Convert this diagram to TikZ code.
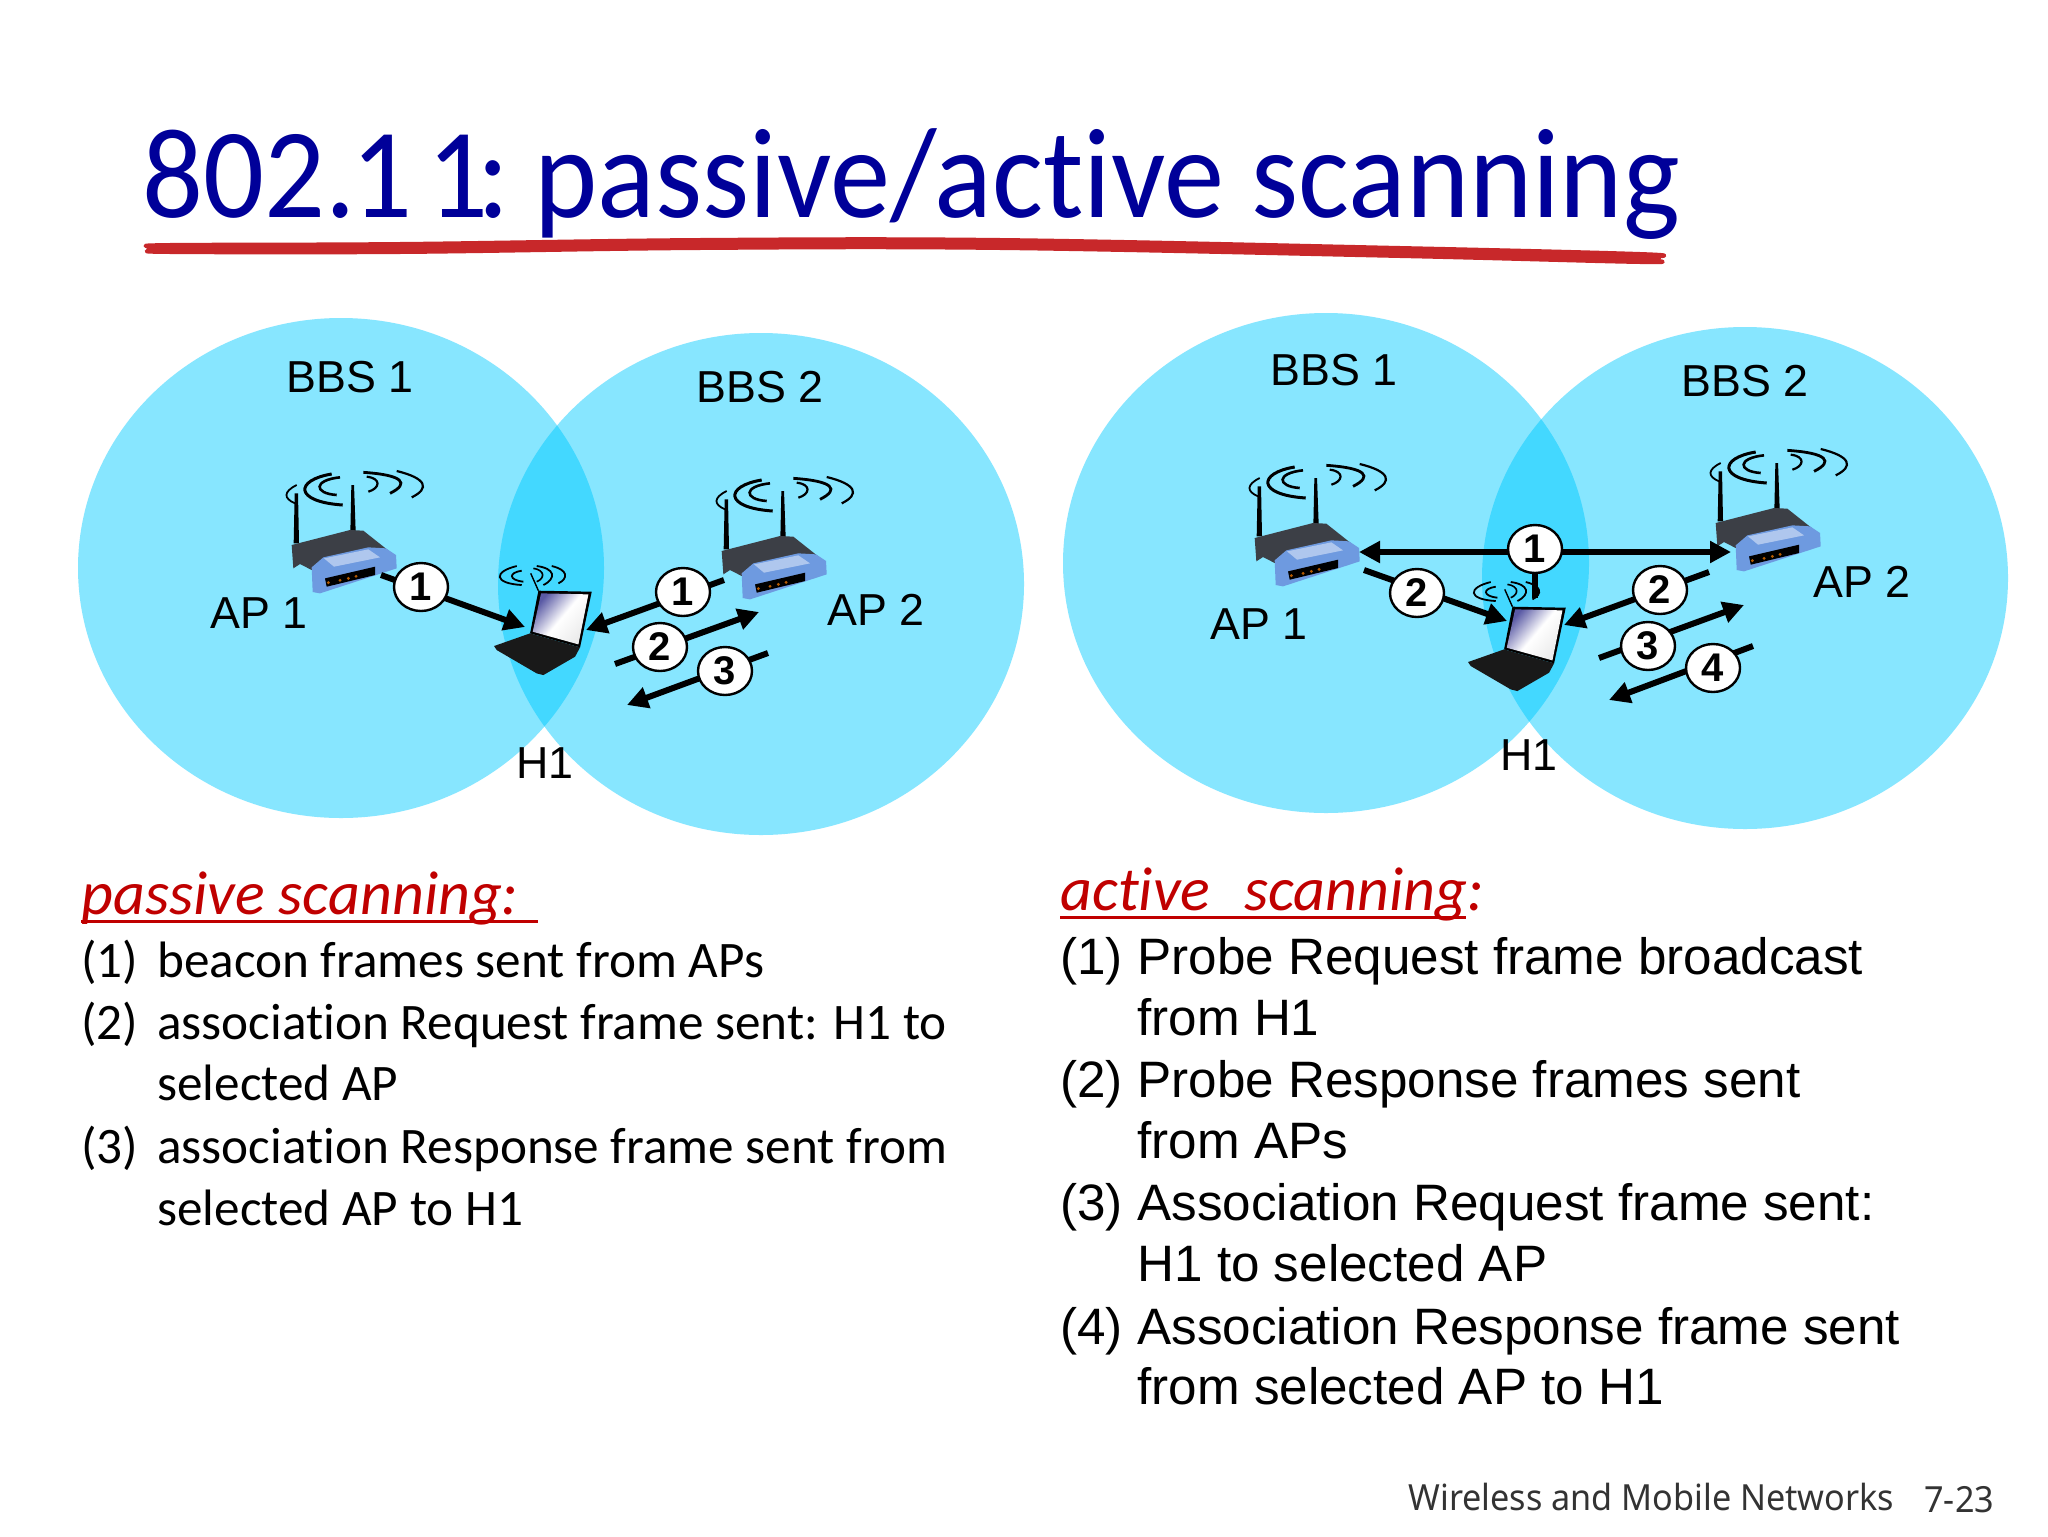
\documentclass[tikz,border=0pt]{standalone}
\usepackage{fontspec}
\setmainfont{Liberation Sans}
\newfontfamily\gill[Ligatures=NoCommon]{Carlito}
\newfontfamily\gilltitle[Ligatures=NoCommon,FakeStretch=0.94]{Carlito}
\newfontfamily\foot[FakeStretch=0.95]{Noto Sans}
\usetikzlibrary{arrows.meta,shapes.geometric}
\definecolor{cellblue}{HTML}{87E6FF}
\definecolor{overlapblue}{HTML}{43D8FF}
\definecolor{titleblue}{HTML}{000099}
\definecolor{ulred}{HTML}{C8282A}
\definecolor{headred}{HTML}{C00000}
\definecolor{rblue}{HTML}{6E9AE0}
\definecolor{rdark}{HTML}{3C3F46}
\definecolor{screenviolet}{HTML}{5A5AA5}
\tikzset{
 x=0.5pt,y=-0.5pt,
 lab/.style={font=\fontsize{22.4}{22}\selectfont,inner sep=0pt,anchor=center},
 num/.style={ellipse,draw=black,line width=1.2pt,fill=white,minimum width=27pt,minimum height=24pt,inner sep=0pt,font=\fontsize{20}{20}\selectfont\bfseries},
 msg/.style={line width=3pt,-{Triangle[length=10.5pt,width=10.5pt]}},
 stub/.style={line width=3pt},
 gilltxt/.style={font=\gill\fontsize{25.6}{26}\selectfont,anchor=base west,inner sep=0pt,text=black},
 ariatxt/.style={font=\fontsize{25.6}{26}\selectfont,anchor=base west,inner sep=0pt,text=black},
 heading/.style={anchor=base west,inner sep=0pt,text=headred,font=\gill\itshape\fontsize{31}{31}\selectfont},
 router/.pic={
  \begin{scope}[x=0.1667pt,y=-0.1667pt]
   \fill[black] (104,100)--(114,100)--(117,250)--(101,250)--cycle;
   \fill[black] (274,75)--(282,75)--(287,215)--(271,215)--cycle;
   \fill[rdark] (95,255)--(270,210)--(310,212)--(402,285)--(370,272)--(190,294)--(155,330)--(120,312)--(100,325)--cycle;
   \fill[rblue] (155,322)--(190,292)--(325,262)--(378,265)--(408,285)--(410,325)--(180,400)--(158,396)--cycle;
   \fill[rblue!55!white] (192,295)--(325,268)--(360,292)--(222,320)--cycle;
   \fill[black] (195,355)--(345,320)--(345,345)--(200,380)--cycle;
   \foreach \q in {(205,368),(240,361),(265,355),(288,349)} \fill[orange!70!black] \q circle (0.8pt);
   \draw[black,line width=0.9pt] (110,75) .. controls (70,95) and (70,115) .. (105,130);
   \draw[black,line width=1.5pt] (215,42) .. controls (105,60) and (100,125) .. (248,135);
   \draw[black,line width=1.3pt] (240,52) .. controls (160,60) and (160,100) .. (230,105);
   \draw[black,line width=1.1pt] (320,50) .. controls (365,55) and (360,85) .. (325,95);
   \draw[black,line width=1.4pt] (310,37) .. controls (430,45) and (450,70) .. (390,100);
   \draw[black,line width=1.1pt] (410,33) .. controls (500,55) and (510,85) .. (455,112);
  \end{scope}},
 laptop/.pic={
  \begin{scope}[x=0.1667pt,y=-0.1667pt]
   \draw[black,line width=0.7pt] (812,340)--(835,392);
   \draw[black,line width=0.9pt] (770,318) .. controls (700,335) and (700,370) .. (785,375);
   \draw[black,line width=0.9pt] (785,332) .. controls (745,338) and (745,360) .. (790,365);
   \draw[black,line width=0.8pt] (820,325) .. controls (855,330) and (855,355) .. (830,365);
   \draw[black,line width=0.9pt] (830,318) .. controls (885,325) and (890,355) .. (850,375);
   \draw[black,line width=0.9pt] (875,318) .. controls (925,330) and (925,355) .. (895,370);
   \fill[black] (835,392)--(995,395)--(960,562)--(810,520)--cycle;
   \shade[top color=screenviolet,bottom color=black!8,middle color=white,shading angle=50] (843,400)--(985,403)--(955,553)--(818,515)--cycle;
   \fill[black!90] (702,558)--(810,520)--(960,562)--(945,590)--(850,645)--(830,640)--(710,570)--cycle;
  \end{scope}}
}
\begin{document}
\begin{tikzpicture}
\useasboundingbox (0,0) rectangle (2048,1536);
\fill[white] (0,0) rectangle (2048,1536);
% title
\node[anchor=base west,inner sep=0pt,text=titleblue,font=\gilltitle\fontsize{64}{64}\selectfont] (title) at (142,217) {802.\kern-2pt 1\kern7.3pt 1\kern-5.5pt:\kern-1pt\ passive/active scanning};
\filldraw[ulred,line width=2pt,line join=round] plot[smooth cycle,tension=0.6] coordinates {(150,247)(170,245)(400,244)(700,240)(1000,240)(1400,248)(1640,254)(1658,257)(1655,260)(1640,262)(1400,256)(1000,248)(700,248)(400,252)(170,252)(152,250)};
% cells
\foreach \cx/\cy/\ox/\oy in {341/568/761/584,1326/563/1745/578}{
 \fill[cellblue] (\cx,\cy) ellipse [x radius=131.5pt,y radius=125pt];
 \fill[cellblue] (\ox,\oy) ellipse [x radius=131.5pt,y radius=125.5pt];
 \begin{scope}
  \clip (\cx,\cy) ellipse [x radius=131.5pt,y radius=125pt];
  \fill[overlapblue] (\ox,\oy) ellipse [x radius=131.5pt,y radius=125.5pt];
 \end{scope}
}
% devices
\pic at (260,460) {router};
\pic at (690,466) {router};
\pic at (1223,453) {router};
\pic at (1684,438) {router};
\pic at (260,460) {laptop};
\pic at (1234,476) {laptop};
% labels
\node[lab] (l1) at (350,377) {BBS 1};
\node[lab] (l2) at (760,387) {BBS 2};
\node[lab] (l3) at (259,613) {AP 1};
\node[lab] (l4) at (876,610) {AP 2};
\node[lab] (l5) at (545,763) {H1};
\node[lab] (r1) at (1334,370) {BBS 1};
\node[lab] (r2) at (1745,381) {BBS 2};
\node[lab] (r3) at (1259,624) {AP 1};
\node[lab] (r4) at (1862,582) {AP 2};
\node[lab] (r5) at (1529,755) {H1};
% left arrows
\coordinate (a1s) at (381,575); \coordinate (a1e) at (525,627);
\coordinate (a2s) at (724,580); \coordinate (a2e) at (586,630);
\coordinate (a3s) at (615,664); \coordinate (a3e) at (759,612);
\coordinate (a4s) at (768,653); \coordinate (a4e) at (627,705);
\draw[msg] (a1s)--(a1e);
\draw[msg] (a2s)--(a2e);
\draw[msg] (a3s)--(a3e);
\draw[msg] (a4s)--(a4e);
\node[num] (n1) at (421,587) {1};
\node[num] (n2) at (683,592) {1};
\node[num] (n3) at (660,647) {2};
\node[num] (n4) at (725,671) {3};
% right arrows
\coordinate (b0l) at (1359,552); \coordinate (b0r) at (1731,552);
\coordinate (b0j) at (1535,552); \coordinate (b0d) at (1535,598);
\coordinate (b1s) at (1364,570); \coordinate (b1e) at (1507,621);
\coordinate (b2s) at (1709,572); \coordinate (b2e) at (1564,625);
\coordinate (b3s) at (1599,658); \coordinate (b3e) at (1744,605);
\coordinate (b4s) at (1753,646); \coordinate (b4e) at (1609,700);
\draw[msg] (b0j)--(b0l);
\draw[msg] (b0j)--(b0r);
\draw[stub] (b0j)--(b0d);
\draw[msg] (b1s)--(b1e);
\draw[msg] (b2s)--(b2e);
\draw[msg] (b3s)--(b3e);
\draw[msg] (b4s)--(b4e);
\node[num] (m1) at (1535,549) {1};
\node[num] (m2) at (1417,593) {2};
\node[num] (m3) at (1660,590) {2};
\node[num] (m4) at (1648,646) {3};
\node[num] (m5) at (1713,668) {4};
% passive text
\node[heading] (ph) at (81,914) {passive scanning:};
\draw[headred,line width=1.5pt] (81,921)--(538,921);
\node[gilltxt] (p1n) at (81,977) {(1)};
\node[gilltxt] (p1) at (157,977) {beacon frames sent from APs};
\node[gilltxt] (p2n) at (81,1039) {(2)};
\node[gilltxt] (p2) at (157,1039) {association Request frame sent: H1 to};
\node[gilltxt] (p2b) at (157,1100) {selected AP};
\node[gilltxt] (p3n) at (81,1163) {(3)};
\node[gilltxt] (p3) at (157,1163) {association Response frame sent from};
\node[gilltxt] (p3b) at (157,1225) {selected AP to H1};
% active text
\node[heading] (ah) at (1060,910) {active\kern3pt\ \ scanning:};
\draw[headred,line width=1.5pt] (1060,917)--(1466,917);
\node[ariatxt] (a1n) at (1060,974) {(1)};
\node[ariatxt] (a1) at (1137,974) {Probe Request frame broadcast};
\node[ariatxt] (a1b) at (1137,1035) {from H1};
\node[ariatxt] (a2n) at (1060,1097) {(2)};
\node[ariatxt] (a2) at (1137,1097) {Probe Response frames sent};
\node[ariatxt] (a2b) at (1137,1158) {from APs};
\node[ariatxt] (a3n) at (1060,1220) {(3)};
\node[ariatxt] (a3) at (1137,1220) {Association Request frame sent:};
\node[ariatxt] (a3b) at (1137,1281) {H1 to selected AP};
\node[ariatxt] (a4n) at (1060,1344) {(4)};
\node[ariatxt] (a4) at (1137,1344) {Association Response frame sent};
\node[ariatxt] (a4b) at (1137,1404) {from selected AP to H1};
% footer
\node[anchor=base west,inner sep=0pt,font=\foot\fontsize{18}{18}\selectfont,text=black!80] (f1) at (1408,1510) {Wireless and Mobile Networks};
\node[anchor=base west,inner sep=0pt,font=\foot\fontsize{18}{18}\selectfont,text=black!80] (f2) at (1924,1512) {7-23};
\end{tikzpicture}
\end{document}
